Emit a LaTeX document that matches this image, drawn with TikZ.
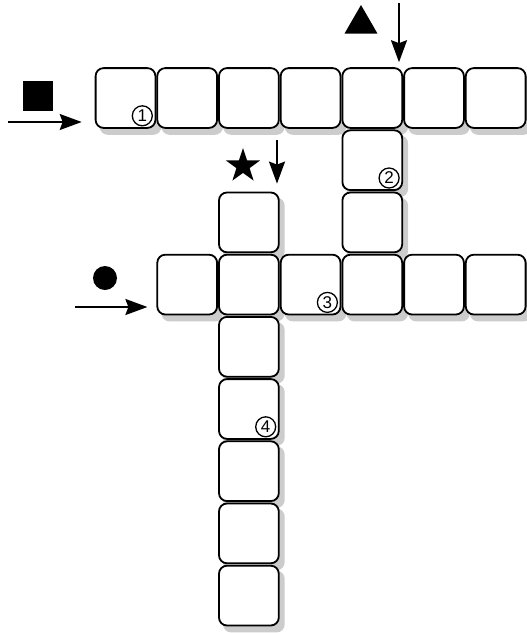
\documentclass[tikz,border=0pt]{standalone}
\usepackage{fontspec}
\newfontfamily\numfont{Liberation Sans}
\usepackage{tikz}
\usetikzlibrary{arrows.meta, positioning, shapes.geometric, backgrounds}
\tikzset{
  cell/.style={draw, rounded corners=8pt, line width=1.8pt, fill=white,
    minimum size=59.8pt, inner sep=0pt},
  num/.style={draw, circle, line width=1.3pt, minimum size=20pt, inner sep=0pt,
    font=\numfont\fontsize{17}{17}\selectfont},
  cellshadow/.style={fill=black!20, rounded corners=8pt},
}

\begin{document}
\begin{tikzpicture}[x=1pt, y=-1pt, >={Stealth[length=22pt,width=16pt,inset=3pt]}]
\useasboundingbox (0,0) rectangle (527,633);

% First across word
\node[cell] (t1) at (125.5, 98) {};
\node[cell] (t2) at (187.2, 98) {};
\node[cell] (t3) at (248.9, 98) {};
\node[cell] (t4) at (310.6, 98) {};
\node[cell] (t5) at (372.3, 98) {};
\node[cell] (t6) at (434.0, 98) {};
\node[cell] (t7) at (495.7, 98) {};

% First down word
\node[cell] (d1) at (372.3, 160.2) {};
\node[cell] (d2) at (372.3, 222.4) {};

% Second across word
\node[cell] (m1) at (187.2, 284.6) {};
\node[cell] (m2) at (248.9, 284.6) {};
\node[cell] (m3) at (310.6, 284.6) {};
\node[cell] (m4) at (372.3, 284.6) {};
\node[cell] (m5) at (434.0, 284.6) {};
\node[cell] (m6) at (495.7, 284.6) {};

% Second down word
\node[cell] (v1) at (248.9, 222.4) {};
\node[cell] (v2) at (248.9, 346.8) {};
\node[cell] (v3) at (248.9, 409.0) {};
\node[cell] (v4) at (248.9, 471.2) {};
\node[cell] (v5) at (248.9, 533.4) {};
\node[cell] (v6) at (248.9, 595.6) {};

% Shadows behind the cells
\begin{scope}[on background layer]
\foreach \c in {t1,t2,t3,t4,t5,t6,t7,d1,d2,m1,m2,m3,m4,m5,m6,v1,v2,v3,v4,v5,v6}
  \fill[cellshadow] ([xshift=5pt,yshift=-6pt]\c.south west) rectangle ([xshift=5pt,yshift=-6pt]\c.north east);
\end{scope}

% Numbers
\node[num] (n1) at ([xshift=-14pt,yshift=13pt]t1.south east) {1};
\node[num] (n2) at ([xshift=-14pt,yshift=13pt]d1.south east) {2};
\node[num] (n3) at ([xshift=-14pt,yshift=13pt]m3.south east) {3};
\node[num] (n4) at ([xshift=-14pt,yshift=13pt]v3.south east) {4};

% Symbols
\node[fill, minimum size=30pt, inner sep=0pt] (square) at (38, 96) {};
\node[fill, regular polygon, regular polygon sides=3, minimum size=38pt, inner sep=0pt] (triangle) at (361, 24) {};
\node[fill, star, star points=5, star point ratio=2.6, minimum size=36pt, inner sep=0pt] (starsym) at (243, 166) {};
\node[fill, circle, minimum size=24pt, inner sep=0pt] (dot) at (105, 278) {};

% Start arrows
\coordinate (in1) at (8, 122);
\coordinate (in2) at (399, 3);
\coordinate (in3) at (75, 307);
\coordinate (in4) at (277, 140);

\draw[->, line width=2pt, shorten >=13pt] (in1) -- (t1.west |- in1);
\draw[->, line width=2pt, shorten >=5pt] (in2) -- (in2 |- t5.north);
\draw[->, line width=2pt, shorten >=9pt] (in3) -- (m1.west |- in3);
\draw[->, line width=2pt, shorten >=8pt] (in4) -- (in4 |- v1.north);
\end{tikzpicture}
\end{document}
